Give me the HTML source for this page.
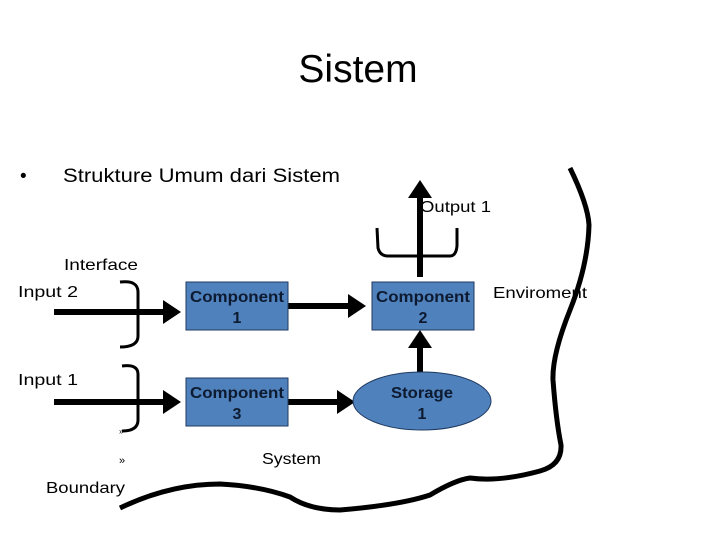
<!DOCTYPE html>
<html><head><meta charset="utf-8"><style>
html,body{margin:0;padding:0;background:#fff;width:720px;height:540px;overflow:hidden}
svg{display:block}
</style></head><body>
<svg width="720" height="540" viewBox="0 0 720 540" xmlns="http://www.w3.org/2000/svg">
<defs>
<marker id="ah" markerWidth="4" markerHeight="4" refX="0" refY="2" orient="auto" markerUnits="strokeWidth">
<path d="M0,0 L3,2 L0,4 Z" fill="#000"/></marker>
</defs>
<g font-family="Liberation Sans, sans-serif">
<text x="358" y="82" font-size="39" text-anchor="middle" fill="#000">Sistem</text>
<text x="20" y="182" font-size="19">•</text>
<text x="63" y="182" font-size="19" textLength="277" lengthAdjust="spacingAndGlyphs">Strukture Umum dari Sistem</text>
<text x="420" y="212" font-size="16" textLength="71" lengthAdjust="spacingAndGlyphs">Output 1</text>
<text x="64" y="270" font-size="16" textLength="74" lengthAdjust="spacingAndGlyphs">Interface</text>
<text x="18" y="297" font-size="16" textLength="60" lengthAdjust="spacingAndGlyphs">Input 2</text>
<text x="18" y="385" font-size="16" textLength="60" lengthAdjust="spacingAndGlyphs">Input 1</text>
<text x="493" y="298" font-size="16" textLength="94" lengthAdjust="spacingAndGlyphs">Enviroment</text>
<text x="262" y="464" font-size="16" textLength="59" lengthAdjust="spacingAndGlyphs">System</text>
<text x="119" y="464" font-size="11">»</text>
<text x="119" y="434" font-size="8">»</text>
<text x="46" y="493" font-size="16" textLength="79" lengthAdjust="spacingAndGlyphs">Boundary</text>
</g>
<g stroke="#000" stroke-width="6" fill="none">
<line x1="54" y1="312" x2="163" y2="312" marker-end="url(#ah)"/>
<line x1="54" y1="402" x2="163" y2="402" marker-end="url(#ah)"/>
<line x1="288" y1="306" x2="348" y2="306" marker-end="url(#ah)"/>
<line x1="288" y1="402" x2="337" y2="402" marker-end="url(#ah)"/>
<line x1="420" y1="372" x2="420" y2="348" marker-end="url(#ah)"/>
<line x1="420" y1="277" x2="420" y2="198" marker-end="url(#ah)"/>
</g>
<g stroke="#000" stroke-width="3" fill="none">
<path d="M120,282 Q138,280 138,292 L138,336 Q138,347 120,347"/>
<path d="M122,366 Q138,364 138,374 L138,420 Q138,431 122,431"/>
<path d="M377,228 L378,248 Q380,256 388,256 L450,256 Q456,256 457,246 L457,228"/>
</g>
<g fill="#4f81bd" stroke="#1f3a60" stroke-width="1">
<rect x="186" y="282" width="102" height="48"/>
<rect x="372" y="282" width="102" height="48"/>
<rect x="186" y="378" width="102" height="48"/>
<ellipse cx="422" cy="401" rx="69" ry="29"/>
</g>
<g font-family="Liberation Sans, sans-serif" font-size="16" font-weight="bold" fill="#0d1a30" text-anchor="middle">
<text x="237" y="302" textLength="94" lengthAdjust="spacingAndGlyphs">Component</text><text x="237" y="323">1</text>
<text x="423" y="302" textLength="94" lengthAdjust="spacingAndGlyphs">Component</text><text x="423" y="323">2</text>
<text x="237" y="398" textLength="94" lengthAdjust="spacingAndGlyphs">Component</text><text x="237" y="419">3</text>
<text x="422" y="398" textLength="62" lengthAdjust="spacingAndGlyphs">Storage</text><text x="422" y="419">1</text>
</g>
<path d="M570,168 Q588,205 589,225 Q588,265 570,310 Q552,355 553,380 Q556,420 561,445 Q562,465 540,471 Q500,482 470,478 Q455,480 430,495 Q400,505 340,510 Q310,510 290,497 Q260,486 220,484 Q170,484 120,508" stroke="#000" stroke-width="5" fill="none"/>
</svg>
</body></html>
